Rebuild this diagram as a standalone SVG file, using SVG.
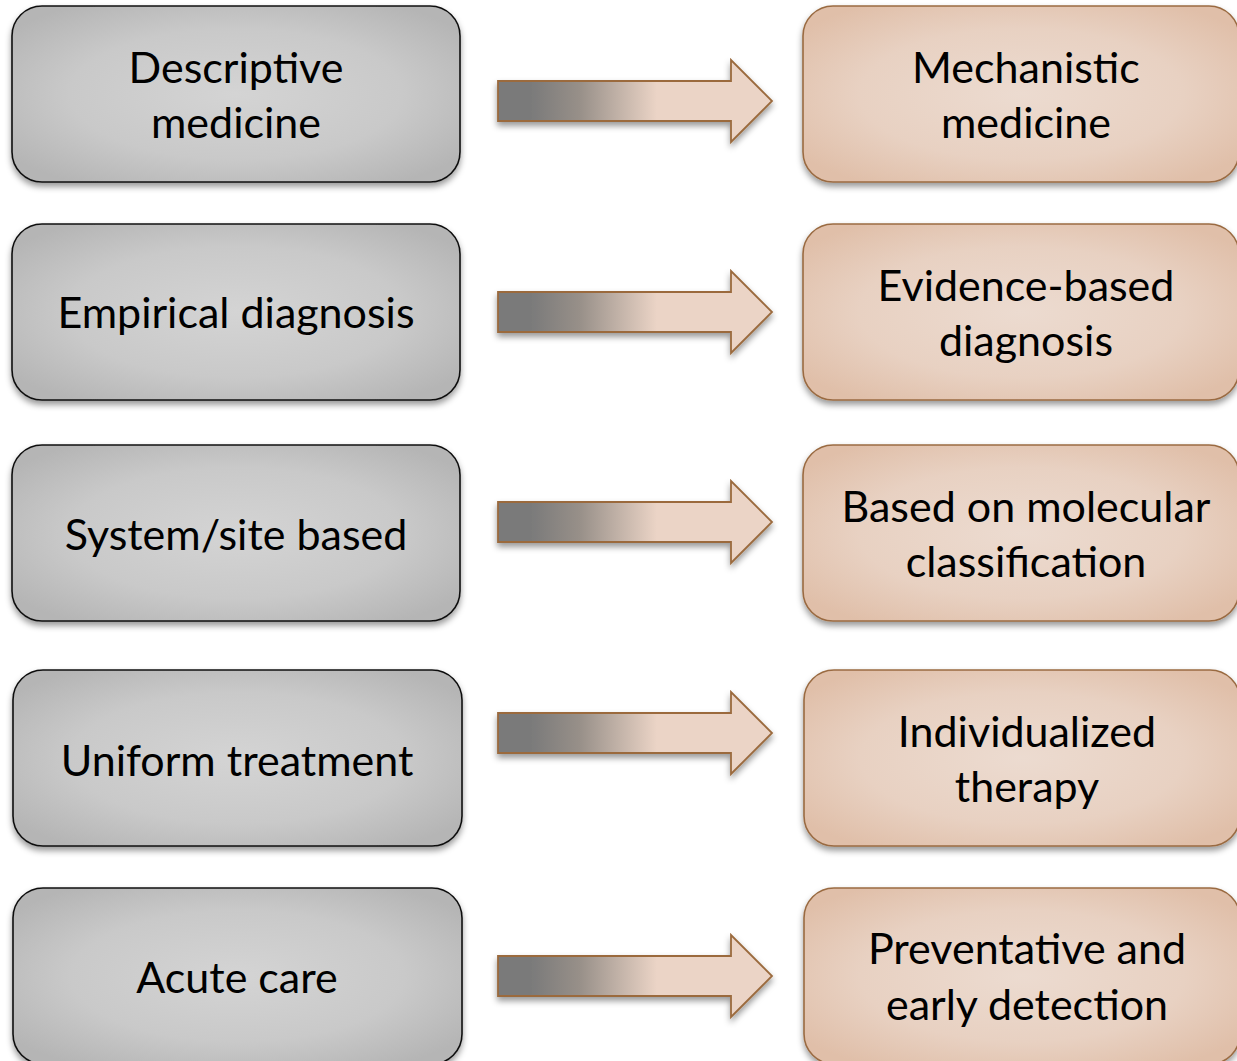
<svg xmlns="http://www.w3.org/2000/svg" width="1237" height="1061" viewBox="0 0 1237 1061">
  <defs>
    <radialGradient id="gGrey" cx="0.5" cy="0.5" r="0.62">
      <stop offset="0" stop-color="#d4d4d4"/>
      <stop offset="0.6" stop-color="#c9c9c9"/>
      <stop offset="1" stop-color="#b5b5b5"/>
    </radialGradient>
    <radialGradient id="gPeach" cx="0.5" cy="0.5" r="0.62">
      <stop offset="0" stop-color="#ecdbd0"/>
      <stop offset="0.6" stop-color="#e8d1c2"/>
      <stop offset="1" stop-color="#e0bfa9"/>
    </radialGradient>
    <linearGradient id="gArrow" x1="0" y1="0" x2="1" y2="0">
      <stop offset="0.12" stop-color="#7a7a7a"/>
      <stop offset="0.3" stop-color="#989089"/>
      <stop offset="0.58" stop-color="#ebd4c6"/>
      <stop offset="1" stop-color="#ebd4c6"/>
    </linearGradient>
    <filter id="shadow" x="-10%" y="-10%" width="120%" height="130%">
      <feDropShadow dx="0" dy="4" stdDeviation="3" flood-color="#000" flood-opacity="0.4"/>
    </filter>
    <path id="arrow" d="M0 -20 H233 V-41 L274 0 L233 41 V20 H0 Z"/>
  </defs>
  <style>
    .left rect { fill: url(#gGrey); stroke: #111; stroke-width: 1.6; filter: url(#shadow); }
    .right rect { fill: url(#gPeach); stroke: #9a6b42; stroke-width: 1.6; filter: url(#shadow); }
    text { font-family: Lato, "Open Sans", sans-serif; font-size: 43px; fill: #000; text-anchor: middle; }
    .arrows use { fill: url(#gArrow); stroke: #9b6a3e; stroke-width: 1.8; filter: url(#shadow); }
  </style>

  <!-- traditional approaches (left column) -->
  <g id="descriptive" class="left">
    <rect x="12" y="6" width="448" height="176" rx="30"/>
    <text x="236" y="83">Descriptive</text>
    <text x="236" y="138">medicine</text>
  </g>
  <g id="empirical" class="left">
    <rect x="12" y="224" width="448" height="176" rx="30"/>
    <text x="236" y="328">Empirical diagnosis</text>
  </g>
  <g id="system-site" class="left">
    <rect x="12" y="445" width="448" height="176" rx="30"/>
    <text x="236" y="550">System/site based</text>
  </g>
  <g id="uniform" class="left">
    <rect x="13" y="670" width="449" height="176" rx="30"/>
    <text x="237" y="776">Uniform treatment</text>
  </g>
  <g id="acute" class="left">
    <rect x="13" y="888" width="449" height="176" rx="30"/>
    <text x="237" y="993">Acute care</text>
  </g>

  <!-- new approaches (right column) -->
  <g id="mechanistic" class="right">
    <rect x="803" y="6" width="436" height="176" rx="30"/>
    <text x="1026" y="83">Mechanistic</text>
    <text x="1026" y="138">medicine</text>
  </g>
  <g id="evidence" class="right">
    <rect x="803" y="224" width="436" height="176" rx="30"/>
    <text x="1026" y="301">Evidence-based</text>
    <text x="1026" y="356">diagnosis</text>
  </g>
  <g id="molecular" class="right">
    <rect x="803" y="445" width="436" height="176" rx="30"/>
    <text x="1026" y="522">Based on molecular</text>
    <text x="1026" y="577">classification</text>
  </g>
  <g id="individualized" class="right">
    <rect x="804" y="670" width="436" height="176" rx="30"/>
    <text x="1027" y="747">Individualized</text>
    <text x="1027" y="802">therapy</text>
  </g>
  <g id="preventative" class="right">
    <rect x="804" y="888" width="436" height="176" rx="30"/>
    <text x="1027" y="964">Preventative and</text>
    <text x="1027" y="1020">early detection</text>
  </g>

  <!-- block arrows between the columns -->
  <g id="connectors" class="arrows">
    <use href="#arrow" transform="translate(498 101)"/>
    <use href="#arrow" transform="translate(498 312)"/>
    <use href="#arrow" transform="translate(498 522)"/>
    <use href="#arrow" transform="translate(498 733)"/>
    <use href="#arrow" transform="translate(498 976)"/>
  </g>
</svg>
